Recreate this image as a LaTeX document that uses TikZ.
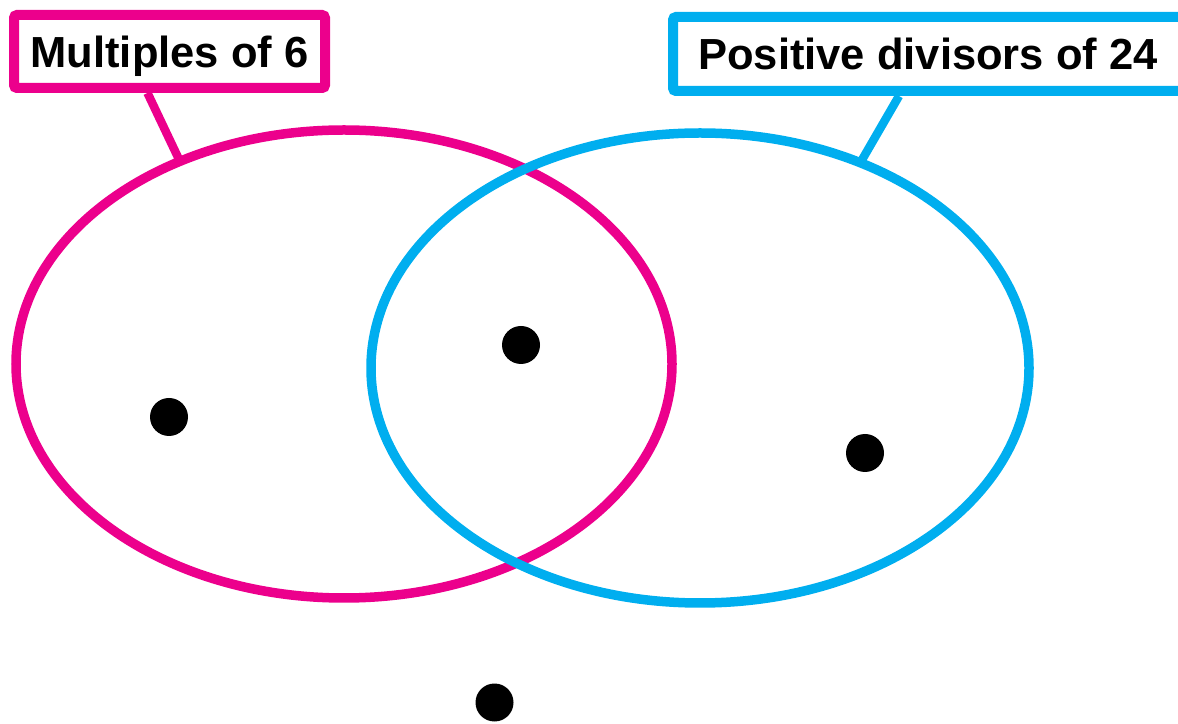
\documentclass[tikz,border=0pt]{standalone}
\usepackage{fontspec}
\setmainfont{Liberation Sans}
\usetikzlibrary{shapes.geometric}
\definecolor{setpink}{HTML}{EC008C}
\definecolor{setblue}{HTML}{00AEEF}
\tikzset{
  setline/.style={draw=#1,line width=9.5pt,ellipse,outer sep=0pt,inner sep=0pt},
  labelbox/.style={draw=#1,fill=white,line width=10pt,rounded corners=3pt,inner sep=0pt,
    font=\fontsize{43.5}{44}\selectfont\bfseries,text depth=0pt},
  dot/.style={circle,fill=black,minimum size=38pt,inner sep=0pt}
}
\begin{document}
\begin{tikzpicture}[x=1pt,y=1pt]
    \useasboundingbox (0,0) rectangle (1178,723);
    \clip (0,0) rectangle (1178,723);
    % 两个集合
    \node[setline=setpink,minimum width=656pt,minimum height=468pt] (multset) at (344,359) {};
    \node[setline=setblue,minimum width=658pt,minimum height=470pt] (divset) at (700,355) {};
    % 标签
    \node[labelbox=setpink,minimum width=311pt,minimum height=73pt] (multbox) at (169.5,671.5) {Multiples of 6};
    \node[labelbox=setblue,minimum width=510pt,minimum height=74pt] (divbox) at (928,669) {Positive divisors of 24};
    % 连线
    \draw[setpink,line width=8.5pt] ([xshift=-22pt]multbox.south) -- (multset.129);
    \draw[setblue,line width=8.5pt] ([xshift=-29pt]divbox.south) -- (divset.52);
    % 元素
    \foreach \n/\p in {1/{(169,306)}, 2/{(521,378)}, 3/{(865,270)}, 4/{(494.5,20.5)}}
    \node[dot] (dot\n) at \p {};
  \end{tikzpicture}
\end{document}
